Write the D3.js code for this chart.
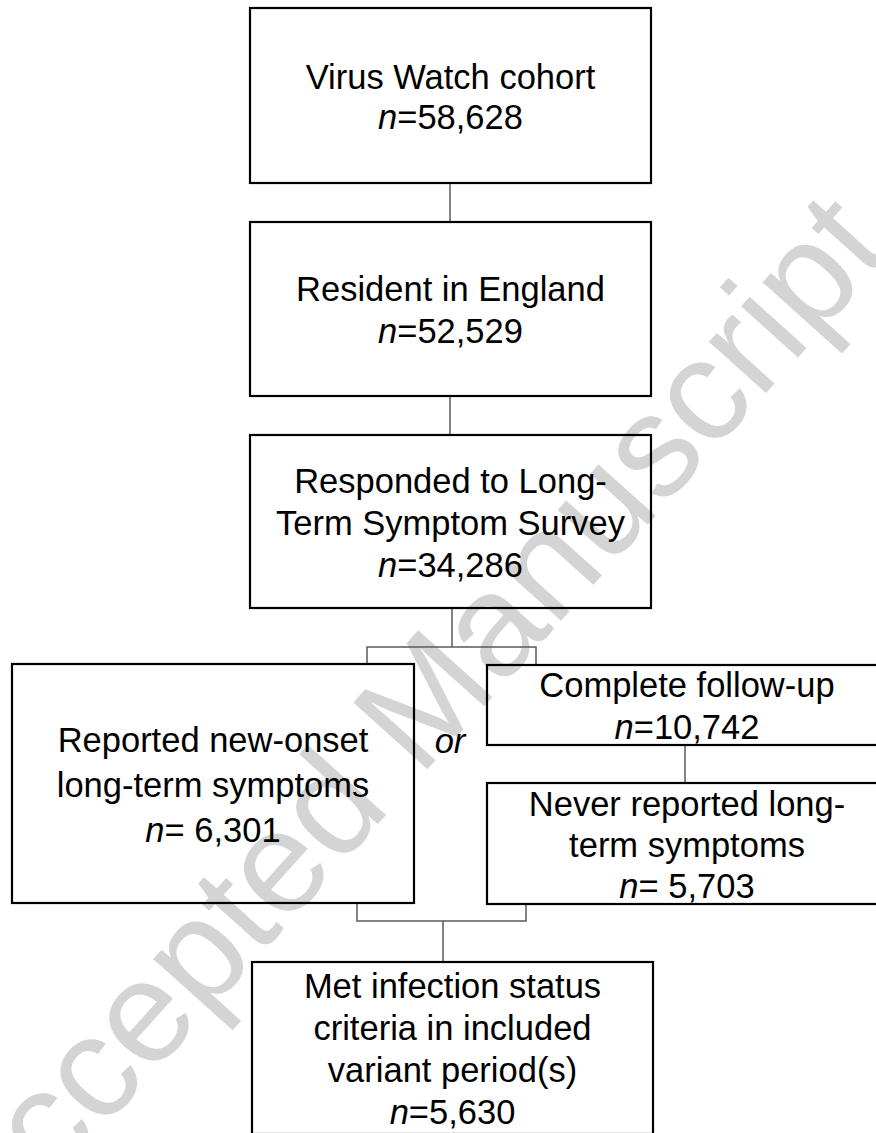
<!DOCTYPE html>
<html>
<head>
<meta charset="utf-8">
<script src="https://cdn.jsdelivr.net/npm/d3@7"></script>
<style>
  html, body { margin: 0; padding: 0; background: #fff; }
  svg { display: block; }
</style>
</head>
<body>
<svg id="mainSvg" width="876" height="1133"></svg>
<script>
// flow chart content
const boxIds = ["cohort", "england", "survey", "newOnset", "followUp", "never", "final"];
const boxLabels = [
    ["Virus Watch cohort"],
    ["Resident in England"],
    ["Responded to Long-", "Term Symptom Survey"],
    ["Reported new-onset", "long-term symptoms"],
    ["Complete follow-up"],
    ["Never reported long-", "term symptoms"],
    ["Met infection status", "criteria in included", "variant period(s)"]
];
const boxCounts = ["=58,628", "=52,529", "=34,286", "= 6,301", "=10,742", "= 5,703", "=5,630"];

// layout (x, y, w, h, line height)
const layout = {
    cohort:   {x: 250, y: 8,   w: 401, h: 175, lh: 40},
    england:  {x: 250, y: 222, w: 401, h: 174, lh: 42},
    survey:   {x: 250, y: 435, w: 401, h: 173, lh: 42},
    newOnset: {x: 12,  y: 664, w: 402, h: 239, lh: 45},
    followUp: {x: 487, y: 665, w: 400, h: 80,  lh: 42},
    never:    {x: 487, y: 783, w: 400, h: 121, lh: 41},
    final:    {x: 252, y: 962, w: 401, h: 172, lh: 42}
};

// connector paths
const connectors = [
    [[450, 183], [450, 222]],
    [[450, 396], [450, 435]],
    [[452, 608], [452, 647]],
    [[367, 664], [367, 647], [536, 647], [536, 665]],
    [[685, 745], [685, 783]],
    [[357, 903], [357, 921], [526, 921], [526, 904]],
    [[443, 921], [443, 962]]
];

let svg = d3.select('#mainSvg');
const fontSize = 34.5;
const font = "'Liberation Sans', Arial, sans-serif";

// watermark behind everything
svg.append("text")
    .text("Accepted Manuscript")
    .attr("transform", "translate(441,754) rotate(-48)")
    .attr("text-anchor", "middle")
    .attr("font-family", font)
    .attr("font-size", 145)
    .attr("fill", "#d4d4d4");

const line = d3.line();
svg.selectAll("path.conn").data(connectors).join("path")
    .attr("class", "conn")
    .attr("d", d => line(d))
    .attr("fill", "none")
    .attr("stroke", "#5a5a5a")
    .attr("stroke-width", 1.5);

const boxes = boxIds.map((id, i) => ({id: id, lines: boxLabels[i], count: boxCounts[i], ...layout[id]}));

svg.selectAll("rect.box").data(boxes).join("rect")
    .attr("class", "box")
    .attr("x", d => d.x)
    .attr("y", d => d.y)
    .attr("width", d => d.w)
    .attr("height", d => d.h)
    .attr("fill", "none")
    .attr("stroke", "#000")
    .attr("stroke-width", 2.2);

boxes.forEach(d => {
    const n = d.lines.length + 1;
    const cx = d.x + d.w / 2;
    const first = d.y + d.h / 2 - (n - 1) * d.lh / 2 + fontSize * 0.38;
    const t = svg.append("text")
        .attr("text-anchor", "middle")
        .attr("font-family", font)
        .attr("font-size", fontSize)
        .attr("fill", "#000");
    d.lines.forEach((s, j) => {
        t.append("tspan").attr("x", cx).attr("y", first + j * d.lh).text(s);
    });
    const last = t.append("tspan").attr("x", cx).attr("y", first + (n - 1) * d.lh);
    last.append("tspan").attr("font-style", "italic").text("n");
    last.append("tspan").text(d.count);
});

// "or" between the two branches
svg.append("text")
    .text("or")
    .attr("x", 450)
    .attr("y", 753)
    .attr("text-anchor", "middle")
    .attr("font-family", font)
    .attr("font-style", "italic")
    .attr("font-size", fontSize);
</script>
</body>
</html>
